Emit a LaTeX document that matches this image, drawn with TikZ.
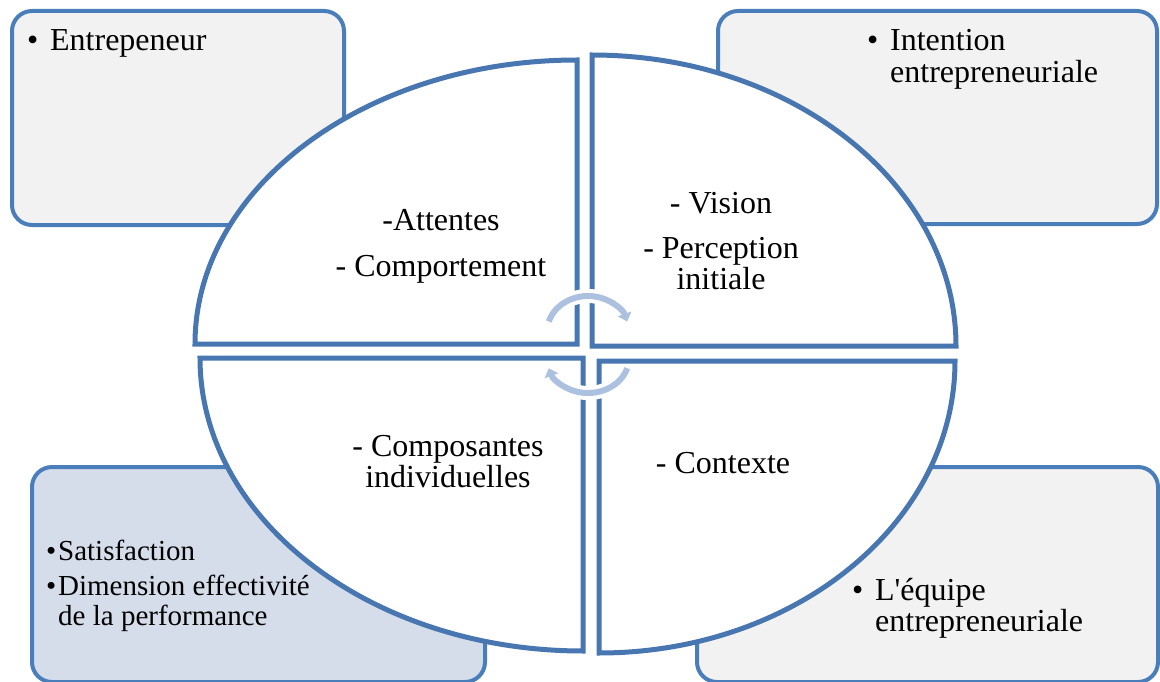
\documentclass[tikz,border=0pt]{standalone}
\usepackage{fontspec}
\setmainfont{Liberation Serif}[Ligatures=TeXOff]
\usetikzlibrary{arrows.meta}
\definecolor{bord}{RGB}{74,126,187}
\definecolor{qbord}{RGB}{72,118,176}
\definecolor{lgray}{RGB}{242,242,242}
\definecolor{lblue}{RGB}{214,221,234}
\definecolor{arrc}{RGB}{172,192,223}
\tikzset{
  cbox/.style={draw=bord, line width=4pt, rounded corners=20pt, inner sep=0pt, outer sep=0pt},
  quad/.style={draw=qbord, line width=5pt, fill=white, line join=miter},
  txt/.style={font=\fontsize{32}{31}\selectfont, inner sep=0pt, anchor=base},
  stxt/.style={font=\fontsize{29}{30}\selectfont, inner sep=0pt, anchor=base west},
  halo/.style={draw=white, line width=14pt},
  cyc/.style={draw=arrc, line width=6pt, -{Triangle[length=8pt,width=14pt]}}
}
\begin{document}
\begin{tikzpicture}[x=1pt,y=-1pt]
\useasboundingbox (0,0) rectangle (1160,682);
% corner boxes
\node[cbox, fill=lgray, minimum width=332pt, minimum height=214pt] (tl) at (178,118) {};
\node[cbox, fill=lgray, minimum width=439pt, minimum height=213pt] (tr) at (937.5,117.5) {};
\node[cbox, fill=lblue, minimum width=453pt, minimum height=215pt] (bl) at (258.5,574.5) {};
\node[cbox, fill=lgray, minimum width=461pt, minimum height=215pt] (br) at (927.5,574.5) {};
% corner texts
\node[txt, anchor=base west] (tltext) at (27,51) {\makebox[23pt][l]{•}Entrepeneur};
\node[txt, anchor=base west] (trtext) at (867,51) {\begin{tabular}[t]{@{}l@{}l@{}}\makebox[23pt][l]{•}&Intention\\&entrepreneuriale\end{tabular}};
\node[stxt] (bltext) at (46,560) {\begin{tabular}[t]{@{}l@{}l@{}}\makebox[12pt][l]{•}&Satisfaction\\[5pt]\makebox[12pt][l]{•}&Dimension effectivité\\&de la performance\end{tabular}};
\node[txt, anchor=base west] (brtext) at (852,600) {\begin{tabular}[t]{@{}l@{}l@{}}\makebox[23pt][l]{•}&L'équipe\\&entrepreneuriale\end{tabular}};
% quadrants
\coordinate (qtl) at (577,344);
\coordinate (qtr) at (592,346);
\coordinate (qbl) at (583,358);
\coordinate (qbr) at (599,361);
\path[quad] (qtl) -- (195,344) arc[start angle=180, end angle=270, x radius=382, y radius=284] -- cycle;
\path[quad] (qtr) -- (592,55) arc[start angle=270, end angle=360, x radius=364, y radius=291] -- cycle;
\path[quad] (qbr) -- (955,361) arc[start angle=0, end angle=90, x radius=356, y radius=292] -- cycle;
\path[quad] (qbl) -- (583,651) arc[start angle=90, end angle=180, x radius=383, y radius=293] -- cycle;
% quadrant texts
\node[txt] (t1) at (441,230) {\begin{tabular}[t]{@{}c@{}}-Attentes\\[15pt]- Comportement\end{tabular}};
\node[txt] (t2) at (721,213) {\begin{tabular}[t]{@{}c@{}}- Vision\\[14pt]- Perception\\initiale\end{tabular}};
\node[txt] (t3) at (448,456) {\begin{tabular}[t]{@{}c@{}}- Composantes\\individuelles\end{tabular}};
\node[txt] (t4) at (723,473) {- Contexte};
% cycle arrows
\coordinate (ca) at (588,332);
\coordinate (cb) at (588,358);
\path[halo] ([shift={(ca)}]197:41 and 36) arc[start angle=197, end angle=343, x radius=41, y radius=36];
\path[cyc] ([shift={(ca)}]197:41 and 36) arc[start angle=197, end angle=343, x radius=41, y radius=36];
\path[halo] ([shift={(cb)}]17:41 and 35) arc[start angle=17, end angle=163, x radius=41, y radius=35];
\path[cyc] ([shift={(cb)}]17:41 and 35) arc[start angle=17, end angle=163, x radius=41, y radius=35];
\end{tikzpicture}
\end{document}
